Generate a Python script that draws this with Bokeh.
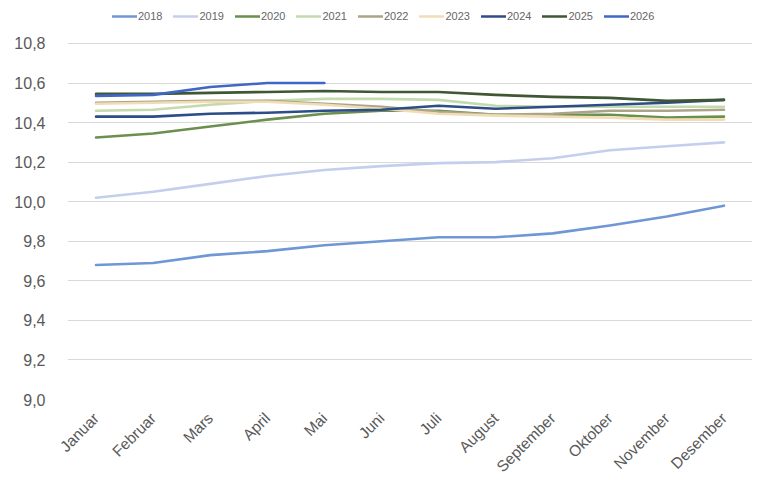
from math import pi

from bokeh.plotting import figure
from bokeh.models import Legend, LegendItem, FixedTicker, CustomJSTickFormatter, Range1d
from bokeh.embed import file_html
from bokeh.resources import INLINE

months = ["Januar", "Februar", "Mars", "April", "Mai", "Juni", "Juli",
          "August", "September", "Oktober", "November", "Desember"]

years = ["2018", "2019", "2020", "2021", "2022", "2023", "2024", "2025", "2026"]

v2018 = [9.68, 9.69, 9.73, 9.75, 9.78, 9.80, 9.82, 9.82, 9.84, 9.88, 9.925, 9.98]
v2019 = [10.02, 10.05, 10.09, 10.13, 10.16, 10.18, 10.195, 10.20, 10.22, 10.26, 10.28, 10.30]
v2020 = [10.325, 10.345, 10.38, 10.415, 10.445, 10.46, 10.46, 10.44, 10.44, 10.44, 10.425, 10.43]
v2021 = [10.46, 10.465, 10.49, 10.51, 10.52, 10.52, 10.515, 10.485, 10.48, 10.48, 10.48, 10.48]
v2022 = [10.50, 10.505, 10.51, 10.51, 10.495, 10.48, 10.455, 10.44, 10.445, 10.46, 10.46, 10.465]
v2023 = [10.495, 10.50, 10.505, 10.505, 10.49, 10.47, 10.445, 10.435, 10.43, 10.425, 10.415, 10.415]
v2024 = [10.43, 10.43, 10.445, 10.45, 10.46, 10.465, 10.485, 10.47, 10.48, 10.49, 10.50, 10.515]
v2025 = [10.545, 10.545, 10.55, 10.555, 10.56, 10.555, 10.555, 10.54, 10.53, 10.525, 10.51, 10.515]
v2026 = [10.535, 10.54, 10.58, 10.60, 10.60]

series = [v2018, v2019, v2020, v2021, v2022, v2023, v2024, v2025, v2026]
colors = ["#6F97D6", "#C4CFEE", "#6B8F4E", "#C3DAAD", "#ACA488",
          "#F0DDB5", "#2C4D87", "#3F5733", "#4066C6"]

yticks = [9.0, 9.2, 9.4, 9.6, 9.8, 10.0, 10.2, 10.4, 10.6, 10.8]

# top of the range leaves room for the legend inside the frame
p = figure(x_range=months, y_range=Range1d(9.0, 10.992),
           width=752, height=484, output_backend="svg", toolbar_location=None,
           min_border_left=67, min_border_right=0, min_border_top=5,
           min_border_bottom=85)

p.outline_line_color = None
p.background_fill_color = "white"
p.border_fill_color = "white"

items = []
for year, vals, col in zip(years, series, colors):
    r = p.line(months[:len(vals)], vals, line_color=col, line_width=2.6,
               line_join="round", line_cap="round")
    items.append(LegendItem(label=year, renderers=[r]))

p.xgrid.grid_line_color = None
p.ygrid.grid_line_color = "#D9D9D9"
p.ygrid.grid_line_width = 1

p.yaxis.ticker = FixedTicker(ticks=yticks)
p.yaxis.formatter = CustomJSTickFormatter(code="return tick.toFixed(1).replace('.', ',');")

for ax in (p.xaxis[0], p.yaxis[0]):
    ax.axis_line_color = None
    ax.major_tick_line_color = None
    ax.minor_tick_line_color = None
    ax.major_label_text_color = "#595959"
    ax.major_label_text_font = "Liberation Sans"

p.yaxis.major_label_text_font_size = "16px"
p.yaxis.major_label_standoff = 16
p.xaxis.major_label_text_font_size = "15.5px"
p.xaxis.major_label_orientation = pi / 4
p.xaxis.major_label_standoff = 10

legend = Legend(items=items, orientation="horizontal", location=(45, 377),
                label_text_font="Liberation Sans", label_text_font_size="11px",
                label_text_color="#666666", glyph_width=25, glyph_height=10,
                label_standoff=1, spacing=11, padding=0, margin=0,
                border_line_color=None, background_fill_alpha=0)
p.add_layout(legend)

open("out.html", "w").write(file_html(p, INLINE))
